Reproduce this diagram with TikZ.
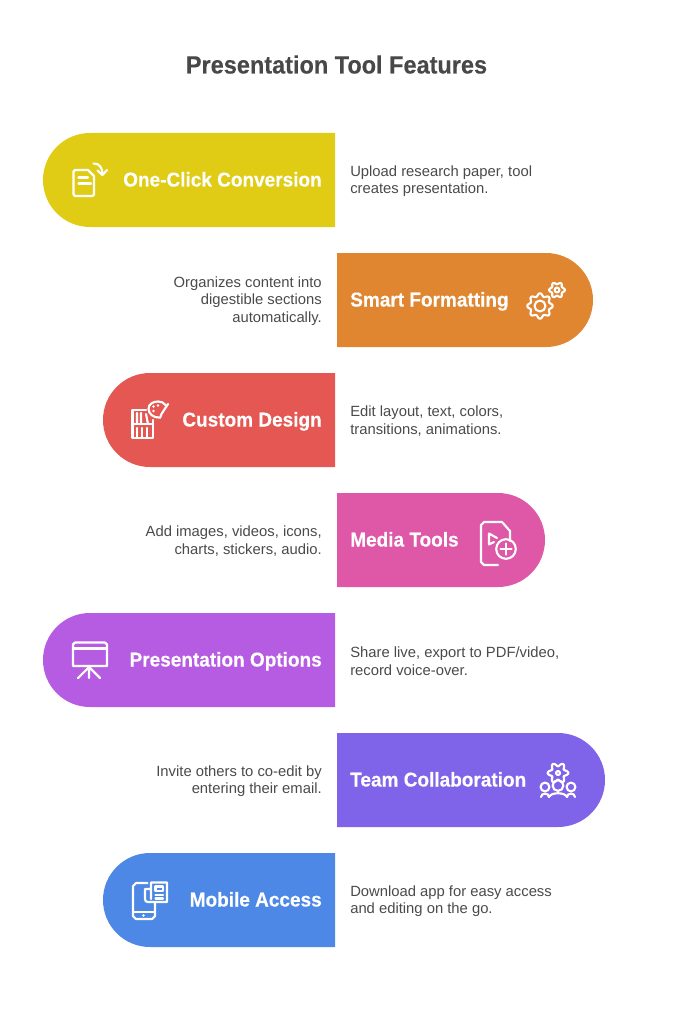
\documentclass[tikz,border=0pt]{standalone}
\usepackage{fontspec}
\setmainfont{Liberation Sans}
\newfontfamily\headfont[FakeBold=0.25,FakeStretch=0.94]{Liberation Sans Bold}
\newfontfamily\labfont[FakeBold=0.3,FakeStretch=0.95]{Liberation Sans Bold}
\definecolor{cTitle}{HTML}{484848}
\definecolor{cDesc}{HTML}{4A4A4A}
\definecolor{cYellow}{HTML}{E0CC14}
\definecolor{cOrange}{HTML}{E08530}
\definecolor{cRed}{HTML}{E55753}
\definecolor{cPink}{HTML}{DF58A8}
\definecolor{cPurple}{HTML}{B65CE3}
\definecolor{cViolet}{HTML}{7F63E9}
\definecolor{cBlue}{HTML}{4D88E6}
\tikzset{
  titletext/.style={text=cTitle,font=\headfont\fontsize{18.75pt}{22pt}\selectfont,inner sep=0pt},
  pilllabel/.style={text=white,font=\labfont\fontsize{15pt}{17pt}\selectfont,inner sep=0pt},
  labelE/.style={pilllabel,anchor=base east},
  labelW/.style={pilllabel,anchor=base west},
  desctext/.style={text=cDesc,font=\fontsize{11.1pt}{13.1pt}\selectfont,inner sep=0pt},
  descleft/.style={desctext,anchor=west,align=left},
  descright/.style={desctext,anchor=east,align=right},
  icon/.style={draw=white,line width=1.6pt,line cap=round,line join=round,fill=none},
}
% left-rounded pill: x0 x1 ytop colour
\newcommand{\pillL}[4]{\fill[#4] (#2,#3) -- (#1+47,#3) arc[start angle=90,end angle=270,x radius=47,y radius=-47] -- (#2,#3+94) -- cycle;}
\newcommand{\pillR}[4]{\fill[#4] (#1,#3) -- (#2-47,#3) arc[start angle=90,end angle=-90,x radius=47,y radius=-47] -- (#1,#3+94) -- cycle;}
% gear: cx cy radius amplitude teeth
\newcommand{\gearshape}[5]{\draw[icon] plot[domain=0:360,samples=109,smooth] ({#1+(#3+#4*cos(#5*\x))*cos(\x)},{#2+(#3+#4*cos(#5*\x))*sin(\x)}) -- cycle;}
\begin{document}
\begin{tikzpicture}[x=0.75pt,y=-0.75pt]
\useasboundingbox (0,0) rectangle (672,1020);
\node[titletext,anchor=base] (title) at (336.5,73.5) {Presentation Tool Features};

\pillL{43}{335}{133}{cYellow}
\pillR{337}{593}{253}{cOrange}
\pillL{103}{335}{373}{cRed}
\pillR{337}{545}{493}{cPink}
\pillL{43}{335}{613}{cPurple}
\pillR{337}{605}{733}{cViolet}
\pillL{103}{335}{853}{cBlue}

\node[labelE] (l1) at (322,186.5) {One-Click Conversion};
\node[labelW] (l2) at (350,306.5) {Smart Formatting};
\node[labelE] (l3) at (322,426.5) {Custom Design};
\node[labelW] (l4) at (350,546.5) {Media Tools};
\node[labelE] (l5) at (322,666.5) {Presentation Options};
\node[labelW] (l6) at (350,786.5) {Team Collaboration};
\node[labelE] (l7) at (322,906.5) {Mobile Access};

\node[descleft] (d1) at (350,181) {Upload research paper, tool\\creates presentation.};
\node[descright] (d2) at (322,301) {Organizes content into\\digestible sections\\automatically.};
\node[descleft] (d3) at (350,421) {Edit layout, text, colors,\\transitions, animations.};
\node[descright] (d4) at (322,541) {Add images, videos, icons,\\charts, stickers, audio.};
\node[descleft] (d5) at (350,661) {Share live, export to PDF/video,\\record voice-over.};
\node[descright] (d6) at (322,781) {Invite others to co-edit by\\entering their email.};
\node[descleft] (d7) at (350,901) {Download app for easy access\\and editing on the go.};

% icon 1: document with arrow
\draw[icon] (88,170) -- (75,170) -- (73.5,171.5) -- (73.5,194.5) -- (75,196) -- (92.5,196) -- (94,194.5) -- (94,176) -- cycle;
\draw[icon] (78.5,177.5) -- (88,177.5) (78.5,183.5) -- (91,183.5);
\draw[icon] (93.5,163.5) .. controls (99,163) and (103,168) .. (102.5,175);
\draw[icon] (97.5,170.5) -- (102.5,175) -- (107,170);

% icon 2: gears
\gearshape{540}{306}{11.2}{1.5}{8}
\draw[icon] (540,306) circle[radius=5.5];
\gearshape{557}{290}{6.8}{1.1}{6}
\draw[icon] (557,290) circle[radius=2.4];

% icon 3: shelf and palette
\draw[icon] (146,410) -- (132.5,410) -- (132.5,438) -- (153,438) -- (153,420);
\draw[icon] (132.5,424) -- (153,424);
\draw[icon] (137,413) -- (137,424) (141,413) -- (141,424) (146,414) -- (148,424);
\draw[icon] (137,428) -- (137,438) (142,428) -- (142,438) (147,428) -- (147,438);
\draw[icon] (159,417.5) .. controls (154,418) and (148.5,414) .. (148.5,409) .. controls (148.5,404) and (153,401.5) .. (158,401.5) .. controls (161,401.5) and (164,402.5) .. (165.5,405);
\draw[icon] (168,404) -- (161.5,414) -- (160,418);
\fill[white] (153.5,406.5) circle[radius=1.3] (158,405.5) circle[radius=1.3] (153.5,411) circle[radius=1.3];

% icon 4: file play plus
\draw[icon] (498,565) -- (484,565) -- (481,562) -- (481,525) -- (484,522) -- (502,522) -- (510,531) -- (510,541);
\draw[icon] (497,538) -- (489,533.5) -- (489,544.5) -- (494,542);
\draw[icon] (506,549) circle[radius=9.8];
\draw[icon] (500.5,549) -- (511.5,549) (506,543.5) -- (506,554.5);

% icon 5: presentation board
\draw[icon] (75,642.5) -- (105,642.5) -- (107,644.5) -- (107,666) -- (73,666) -- (73,644.5) -- cycle;
\draw[icon] (73,648.5) -- (107,648.5);
\draw[icon] (89,667) -- (89,678) (89,667) -- (78,678) (89,667) -- (100,678);

% icon 6: team gear
\gearshape{558}{773}{8.5}{1.8}{6}
\draw[icon] (558,773) circle[radius=2];
\draw[icon] (545,787) circle[radius=4.4] (558,785.5) circle[radius=5.4] (571,787) circle[radius=4.4];
\draw[icon] (541,797) .. controls (541,792.5) and (549,792.5) .. (549,797);
\draw[icon] (549,797) .. controls (551,792) and (565,792) .. (567,797) .. controls (567,792.5) and (575,792.5) .. (575,797);

% icon 7: phone and newspaper
\draw[icon] (147.5,883) -- (136,883) -- (133,886) -- (133,916) -- (136,919) -- (152,919) -- (155,916) -- (155,903);
\draw[icon] (133,912) -- (155,912);
\fill[white] (143.5,915.5) circle[radius=1.3];
\draw[icon] (151,882.5) -- (167,882.5) -- (167,902) -- (148,902) .. controls (146,902) and (145,901) .. (145,899) -- (145,889) -- (151,889) (151,882.5) -- (151,899);
\draw[icon] (155.5,886.5) -- (163,886.5) -- (163,891) -- (155.5,891) -- cycle;
\draw[icon] (155.5,895) -- (163,895) (155.5,898.5) -- (163,898.5);
\end{tikzpicture}
\end{document}
